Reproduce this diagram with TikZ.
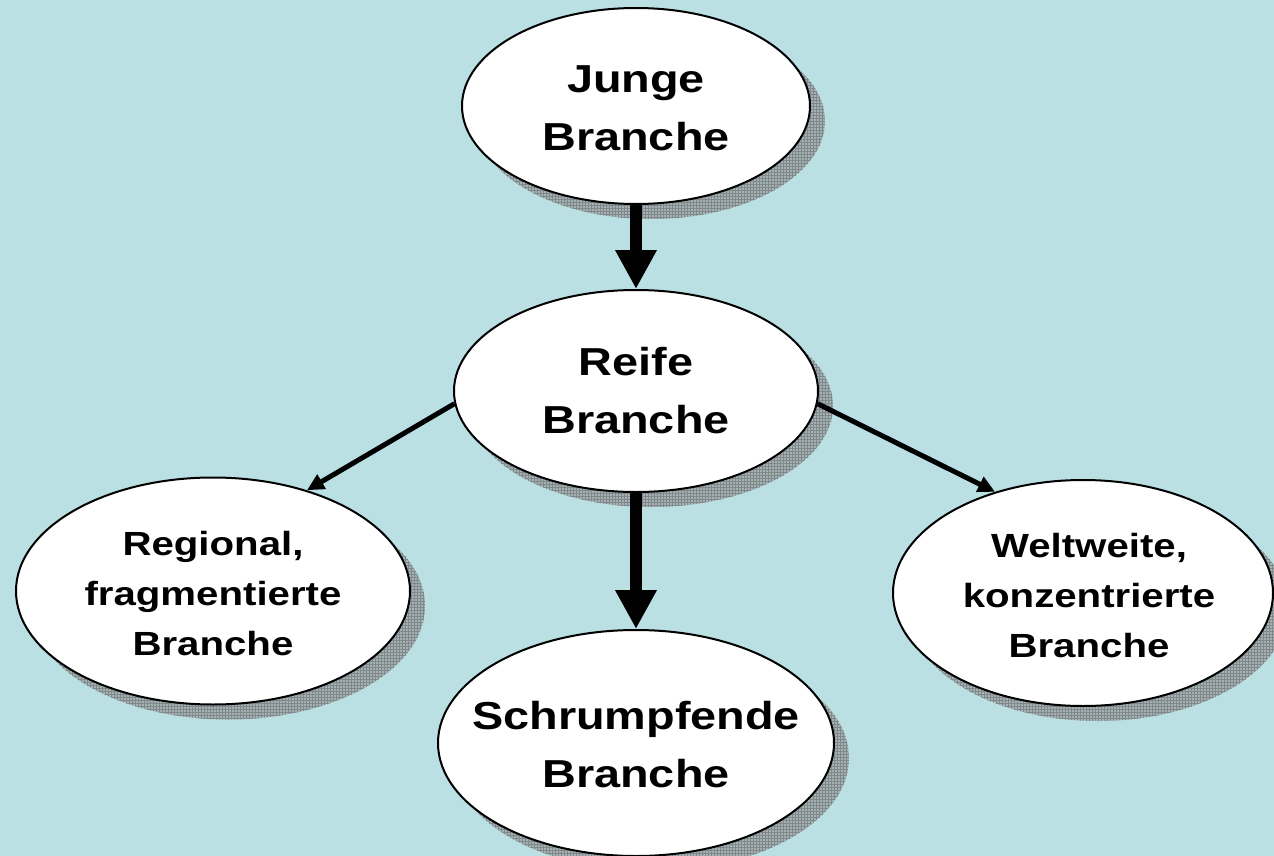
\documentclass[tikz,border=0pt]{standalone}
\usepackage{fontspec}
\setmainfont{Liberation Sans}
\usetikzlibrary{shapes.geometric,arrows.meta,shadows,patterns}

\definecolor{bgcyan}{RGB}{186,224,228}
\definecolor{shadowfill}{RGB}{164,178,181}
\definecolor{shadowgrid}{RGB}{128,136,138}

\newcommand{\widetext}[2]{\scalebox{#1}[1]{\begin{tabular}{@{}c@{}}#2\end{tabular}}}

\tikzset{
  bubble/.style={ellipse, draw=black, line width=2pt, fill=white, inner sep=0pt,
    general shadow={shadow xshift=15pt, shadow yshift=-15pt, fill=shadowfill},
    general shadow={shadow xshift=15pt, shadow yshift=-15pt, pattern=grid, pattern color=shadowgrid}},
  bigtext/.style={inner sep=0pt, font=\fontsize{39}{58}\selectfont\bfseries},
  smalltext/.style={inner sep=0pt, font=\fontsize{33.5}{50}\selectfont\bfseries},
  heavyarrow/.style={line width=12pt, -{Triangle[width=39pt,length=39pt]}},
  lightarrow/.style={line width=5pt, -{Triangle[width=16pt,length=17pt]}},
}

\begin{document}
\begin{tikzpicture}[x=1pt,y=-1pt]
  \useasboundingbox (0,0) rectangle (1274,856);
  \clip (0,0) rectangle (1274,856);
  \fill[bgcyan] (0,0) rectangle (1274,856);

  % stages of the industry life cycle
  \node[bubble, minimum width=348pt, minimum height=196pt] (junge) at (636,106) {};
  \node[bubble, minimum width=364pt, minimum height=202pt] (reife) at (636,391) {};
  \node[bubble, minimum width=394pt, minimum height=227pt] (regional) at (213,591) {};
  \node[bubble, minimum width=380pt, minimum height=226pt] (weltweit) at (1083,593) {};
  \node[bubble, minimum width=396pt, minimum height=226pt] (schrumpf) at (636,743) {};

  % labels
  \node[bigtext] (jungeT) at (636,110) {\widetext{1.2}{Junge\\Branche}};
  \node[bigtext] (reifeT) at (636,393) {\widetext{1.2}{Reife\\Branche}};
  \node[smalltext] (regionalT) at (213,595) {\widetext{1.2}{Regional,\\fragmentierte\\Branche}};
  \node[smalltext] (weltweitT) at (1089,597) {\widetext{1.2}{Weltweite,\\konzentrierte\\Branche}};
  \node[bigtext] (schrumpfT) at (636,747) {\widetext{1.2}{Schrumpfende\\Branche}};

  % transitions
  \draw[heavyarrow] (junge.south) -- (reife.north);
  \draw[heavyarrow] (reife.south) -- (schrumpf.north);
  \draw[lightarrow] (reife.184) -- (regional.47);
  \draw[lightarrow] (reife.356) -- (weltweit.131);
\end{tikzpicture}
\end{document}
